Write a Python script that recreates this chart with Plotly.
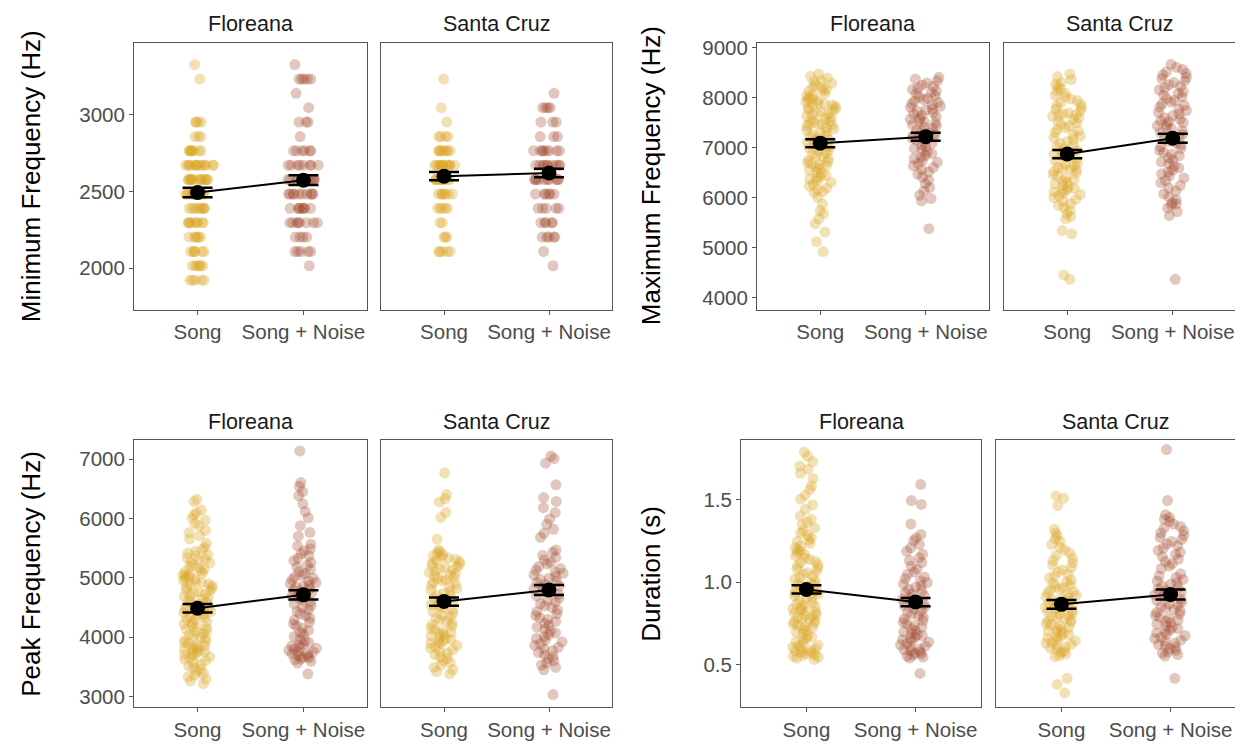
import plotly.graph_objects as go

# screen geometry of the reference (pixels) and page offset of the plot div
SCREEN_W, SCREEN_H = 1243, 745
DX, DY = 8, 12
W, H = SCREEN_W - DX, SCREEN_H - DY

ISLANDS = ["Floreana", "Santa Cruz"]
CONDS = ["Song", "Song + Noise"]

# ---------------- Minimum frequency (Hz) ----------------
FL_SONG_MIN = [3328, 3234,
               2953, 2953, 2953, 2953,
               2859, 2859, 2859,
               2766, 2766, 2766, 2766, 2766, 2766, 2766, 2766,
               2672, 2672, 2672, 2672, 2672, 2672, 2672, 2672, 2672, 2672, 2672, 2672, 2672, 2672,
               2578, 2578, 2578, 2578, 2578, 2578, 2578, 2578, 2578, 2578, 2578, 2578, 2578, 2578,
               2484, 2484, 2484, 2484, 2484, 2484, 2484, 2484, 2484, 2484, 2484, 2484,
               2391, 2391, 2391, 2391, 2391, 2391, 2391, 2391, 2391,
               2297, 2297, 2297, 2297, 2297, 2297, 2297, 2297, 2297,
               2203, 2203, 2203, 2203, 2203, 2203,
               2109, 2109, 2109, 2109, 2109, 2109,
               2016, 2016, 2016, 2016, 2016, 2016,
               1922, 1922, 1922, 1922, 1922]
FL_NOISE_MIN = [3328,
                3234, 3234, 3234, 3234, 3234,
                3141, 3047,
                2953, 2953, 2953,
                2859,
                2766, 2766, 2766, 2766, 2766, 2766,
                2672, 2672, 2672, 2672, 2672, 2672, 2672, 2672,
                2578, 2578, 2578, 2578, 2578, 2578, 2578, 2578, 2578, 2578,
                2484, 2484, 2484, 2484, 2484, 2484, 2484, 2484, 2484, 2484,
                2391, 2391, 2391, 2391, 2391, 2391, 2391, 2391,
                2297, 2297, 2297, 2297, 2297, 2297, 2297, 2297,
                2203, 2203, 2203, 2203,
                2109, 2109, 2109, 2109, 2109,
                2016]
SC_SONG_MIN = [3234, 3047, 2953,
               2859, 2859, 2859, 2859,
               2766, 2766, 2766, 2766, 2766, 2766, 2766, 2766,
               2672, 2672, 2672, 2672, 2672, 2672, 2672, 2672, 2672, 2672, 2672, 2672,
               2578, 2578, 2578, 2578, 2578, 2578, 2578, 2578, 2578, 2578,
               2484, 2484, 2484, 2484, 2484, 2484, 2484,
               2391, 2391, 2391, 2391, 2391,
               2297, 2297,
               2203, 2203, 2203,
               2109, 2109, 2109, 2109, 2109]
SC_NOISE_MIN = [3141,
                3047, 3047, 3047, 3047,
                2953, 2953, 2953,
                2859, 2859, 2859,
                2766, 2766, 2766, 2766, 2766, 2766, 2766, 2766,
                2672, 2672, 2672, 2672, 2672, 2672, 2672, 2672, 2672, 2672,
                2578, 2578, 2578, 2578, 2578, 2578, 2578, 2578, 2578, 2578,
                2484, 2484, 2484, 2484, 2484, 2484,
                2391, 2391, 2391, 2391, 2391,
                2297, 2297, 2297, 2297, 2297,
                2203, 2203, 2203, 2203, 2203,
                2109, 2016]

# ---------------- Maximum frequency (Hz) ----------------
FL_SONG_MAX = [8472, 8426, 8391, 8344, 8331, 8287, 8262, 8219, 8203, 8168, 8141, 8129, 8086, 8057,
               8038, 8004, 7981, 7963, 7932, 7917, 7889, 7874, 7856, 7848, 7830, 7801, 7783, 7766,
               7739, 7712, 7694, 7671, 7652, 7628, 7603, 7587, 7551, 7532, 7509, 7488, 7471, 7462,
               7449, 7427, 7398, 7376, 7349, 7318, 7297, 7266, 7241, 7214, 7189, 7166, 7133, 7108,
               7079, 7047, 7018, 6989, 6962, 6937, 6904, 6879, 6842, 6817, 6782, 6754, 6725, 6698,
               6681, 6664, 6647, 6613, 6584, 6551, 6519, 6486, 6448, 6417, 6392, 6373, 6342, 6306,
               6271, 6233, 6198, 6162, 6127, 6101, 6008, 5877, 5745, 5683, 5579, 5482, 5316, 5122,
               4927]
FL_NOISE_MAX = [8407, 8372, 8338, 8296, 8251, 8224, 8191, 8163, 8137, 8104, 8079, 8043, 8018, 7989,
                7961, 7936, 7907, 7884, 7853, 7829, 7806, 7778, 7752, 7727, 7698, 7676, 7645, 7624,
                7593, 7571, 7544, 7517, 7496, 7463, 7439, 7412, 7387, 7358, 7333, 7302, 7276, 7244,
                7217, 7188, 7153, 7124, 7092, 7058, 7023, 6987, 6952, 6921, 6883, 6848, 6811, 6783,
                6744, 6712, 6684, 6641, 6603, 6562, 6514, 6473, 6411, 6352, 6283, 6204, 6137, 6053,
                5986, 5937, 5383]
SC_SONG_MAX = [8472, 8417, 8361, 8306, 8268, 8219, 8177, 8136, 8091, 8047, 8012, 7978, 7943, 7906,
               7871, 7838, 7801, 7767, 7734, 7698, 7677, 7661, 7648, 7627, 7596, 7568, 7534, 7501,
               7466, 7437, 7398, 7366, 7337, 7301, 7266, 7231, 7197, 7162, 7126, 7091, 7057, 7018,
               6986, 6947, 6911, 6876, 6841, 6807, 6771, 6736, 6701, 6668, 6636, 6609, 6592, 6577,
               6556, 6527, 6497, 6466, 6436, 6401, 6367, 6336, 6306, 6277, 6246, 6217, 6186, 6157,
               6134, 6117, 6096, 6066, 6037, 6002, 5968, 5927, 5886, 5847, 5796, 5748, 5687, 5628,
               5581, 5344, 5279, 4456, 4371]
SC_NOISE_MAX = [8668, 8607, 8563, 8518, 8487, 8452, 8408, 8377, 8336, 8302, 8261, 8227, 8193, 8157,
                8124, 8088, 8051, 8017, 7983, 7948, 7912, 7878, 7847, 7812, 7776, 7743, 7708, 7676,
                7638, 7601, 7567, 7538, 7521, 7503, 7468, 7437, 7406, 7377, 7341, 7308, 7272, 7237,
                7203, 7168, 7127, 7093, 7057, 7018, 6983, 6947, 6908, 6872, 6837, 6798, 6757, 6718,
                6677, 6636, 6598, 6557, 6516, 6478, 6437, 6396, 6347, 6298, 6246, 6197, 6138, 6077,
                6018, 5957, 5902, 5881, 5858, 5797, 5726, 5642, 4371]

# ---------------- Peak frequency (Hz) ----------------
FL_SONG_PEAK = [6322, 6284, 6141, 6097, 6062, 6004, 5971, 5916, 5879, 5798, 5763, 5711, 5654, 5582,
                5521, 5479, 5446, 5418, 5389, 5371, 5342, 5309, 5297, 5262, 5248, 5214, 5189, 5171,
                5143, 5117, 5102, 5084, 5065, 5048, 5031, 5013, 4992, 4974, 4953, 4933, 4922, 4897,
                4881, 4863, 4842, 4826, 4804, 4787, 4763, 4742, 4724, 4702, 4687, 4664, 4641, 4621,
                4597, 4582, 4561, 4536, 4516, 4497, 4477, 4453, 4432, 4409, 4393, 4372, 4348, 4331,
                4306, 4286, 4263, 4241, 4222, 4197, 4177, 4151, 4132, 4111, 4091, 4064, 4044, 4022,
                3997, 3978, 3954, 3932, 3911, 3892, 3873, 3857, 3841, 3823, 3802, 3792, 3777, 3761,
                3743, 3724, 3708, 3689, 3672, 3651, 3627, 3603, 3574, 3542, 3513, 3486, 3456, 3422,
                3391, 3362, 3331, 3297, 3261, 3217]
FL_NOISE_PEAK = [7138, 6605, 6541, 6452, 6381, 6247, 6118, 6012, 5879, 5762, 5701,
                 5567, 5538, 5491, 5453, 5409, 5373, 5331, 5288, 5256, 5211, 5183, 5139, 5106, 5071,
                 5042, 5013, 4991, 4967, 4942, 4921, 4903, 4879, 4862, 4839, 4818, 4794, 4773, 4751,
                 4723, 4689, 4661, 4627, 4593, 4562, 4529, 4498, 4461, 4431, 4394, 4361, 4323, 4289,
                 4256, 4222, 4187, 4149, 4113, 4079, 4044, 4009, 3973, 3942, 3909, 3879, 3868, 3852,
                 3823, 3811, 3799, 3779, 3752, 3746, 3723, 3718, 3691, 3681, 3662, 3652, 3633, 3621,
                 3592, 3563, 3383]
SC_SONG_PEAK = [6767, 6402, 6331, 6279, 6101, 6017, 5651,
                5467, 5441, 5417, 5393, 5372, 5349, 5332, 5311, 5291, 5269, 5252, 5231, 5211, 5189,
                5172, 5149, 5133, 5109, 5091, 5072, 5049, 5031, 5012, 4989, 4971, 4947, 4926, 4899,
                4879, 4852, 4821, 4797, 4769, 4742, 4711, 4689, 4659, 4632, 4601, 4571, 4542, 4514,
                4489, 4459, 4431, 4401, 4376, 4347, 4321, 4292, 4261, 4236, 4209, 4183, 4154, 4131,
                4104, 4082, 4061, 4041, 4019, 4002, 3979, 3961, 3939, 3922, 3899, 3882, 3859, 3841,
                3814, 3791, 3761, 3736, 3702, 3669, 3641, 3604, 3571, 3532, 3489, 3453, 3419, 3383]
SC_NOISE_PEAK = [7052, 7009, 6931, 6567, 6352, 6288, 6181, 6099, 5991, 5902, 5818, 5751, 5683,
                 5467, 5431, 5379, 5346, 5301, 5261, 5229, 5191, 5159, 5131, 5099, 5076, 5049, 5023,
                 4994, 4971, 4941, 4916, 4889, 4863, 4834, 4811, 4784, 4756, 4721, 4691, 4659, 4626,
                 4589, 4561, 4527, 4496, 4459, 4429, 4394, 4361, 4329, 4301, 4264, 4233, 4199, 4169,
                 4134, 4103, 4069, 4041, 4009, 3981, 3949, 3921, 3889, 3861, 3829, 3801, 3769, 3741,
                 3704, 3671, 3634, 3601, 3566, 3529, 3491, 3451, 3033]

# ---------------- Duration (s) ----------------
FL_SONG_DUR = [1.787, 1.762, 1.731, 1.703, 1.684, 1.659, 1.628, 1.582, 1.561, 1.527, 1.503, 1.468,
               1.441, 1.402, 1.381, 1.362, 1.348, 1.329, 1.312, 1.298, 1.287, 1.268, 1.257, 1.246,
               1.237, 1.219, 1.208, 1.197, 1.189, 1.176, 1.168, 1.159, 1.147, 1.138, 1.126, 1.118,
               1.107, 1.099, 1.088, 1.079, 1.067, 1.058, 1.049, 1.038, 1.031, 1.019, 1.008, 0.998,
               0.991, 0.987, 0.979, 0.968, 0.966, 0.957, 0.948, 0.939, 0.936, 0.928, 0.917, 0.909,
               0.898, 0.889, 0.877, 0.868, 0.859, 0.853, 0.847, 0.839, 0.834, 0.828, 0.819, 0.813,
               0.806, 0.798, 0.793, 0.787, 0.779, 0.773, 0.768, 0.759, 0.754, 0.748, 0.739, 0.731,
               0.726, 0.718, 0.709, 0.698, 0.689, 0.678, 0.669, 0.658, 0.648, 0.639, 0.628, 0.619,
               0.613, 0.607, 0.598, 0.594, 0.588, 0.583, 0.578, 0.573, 0.568, 0.562, 0.557, 0.552,
               0.547, 0.541, 0.532]
FL_NOISE_DUR = [1.592, 1.494, 1.471, 1.352,
                1.289, 1.268, 1.251, 1.229, 1.208, 1.187, 1.169, 1.148, 1.131, 1.118, 1.097, 1.079,
                1.061, 1.048, 1.031, 1.022, 1.009, 0.998, 0.989, 0.978, 0.969, 0.958, 0.948, 0.937,
                0.929, 0.918, 0.908, 0.897, 0.888, 0.878, 0.867, 0.858, 0.849, 0.838, 0.827, 0.818,
                0.807, 0.796, 0.788, 0.777, 0.768, 0.757, 0.748, 0.737, 0.727, 0.718, 0.706, 0.698,
                0.689, 0.682, 0.676, 0.668, 0.659, 0.652, 0.646, 0.638, 0.629, 0.621, 0.613, 0.606,
                0.598, 0.591, 0.586, 0.579, 0.572, 0.566, 0.559, 0.553, 0.547, 0.541, 0.448]
SC_SONG_DUR = [1.522, 1.508, 1.463, 1.321, 1.298,
               1.281, 1.262, 1.247, 1.229, 1.211, 1.196, 1.178, 1.162, 1.147, 1.131, 1.118, 1.104,
               1.089, 1.076, 1.062, 1.049, 1.037, 1.026, 1.014, 1.003, 0.993, 0.984, 0.976, 0.968,
               0.959, 0.951, 0.943, 0.937, 0.928, 0.921, 0.913, 0.906, 0.898, 0.892, 0.884, 0.877,
               0.871, 0.863, 0.857, 0.849, 0.842, 0.836, 0.828, 0.821, 0.814, 0.807, 0.799, 0.793,
               0.786, 0.779, 0.771, 0.764, 0.757, 0.749, 0.742, 0.736, 0.728, 0.721, 0.713, 0.706,
               0.698, 0.691, 0.684, 0.676, 0.668, 0.661, 0.653, 0.646, 0.638, 0.631, 0.624, 0.617,
               0.609, 0.601, 0.593, 0.584, 0.576, 0.567, 0.558, 0.549, 0.418, 0.381, 0.329]
SC_NOISE_DUR = [1.803, 1.494,
                1.409, 1.392, 1.381, 1.367, 1.352, 1.338, 1.327, 1.311, 1.298, 1.284, 1.271, 1.259,
                1.247, 1.232, 1.221, 1.207, 1.193, 1.181, 1.168, 1.154, 1.139, 1.126, 1.111, 1.098,
                1.083, 1.051, 1.039, 1.028, 1.017, 1.006, 0.996, 0.987, 0.977, 0.968, 0.959, 0.949,
                0.941, 0.932, 0.923, 0.914, 0.906, 0.897, 0.888, 0.879, 0.869, 0.861, 0.852, 0.843,
                0.834, 0.826, 0.817, 0.808, 0.799, 0.789, 0.781, 0.772, 0.763, 0.754, 0.746, 0.737,
                0.728, 0.719, 0.711, 0.702, 0.693, 0.684, 0.676, 0.667, 0.658, 0.649, 0.641, 0.632,
                0.623, 0.614, 0.606, 0.597, 0.588, 0.579, 0.571, 0.562, 0.553, 0.418]

# ---------------- Means and standard errors (Song, Song + Noise) ----------------
MIN_MEAN = {"Floreana": [2494, 2574], "Santa Cruz": [2600, 2621]}
MIN_SE = {"Floreana": [31, 32], "Santa Cruz": [27, 28]}
MAX_MEAN = {"Floreana": [7092, 7222], "Santa Cruz": [6874, 7190]}
MAX_SE = {"Floreana": [80, 80], "Santa Cruz": [82, 92]}
PEAK_MEAN = {"Floreana": [4488, 4713], "Santa Cruz": [4600, 4795]}
PEAK_SE = {"Floreana": [72, 78], "Santa Cruz": [70, 83]}
DUR_MEAN = {"Floreana": [0.956, 0.880], "Santa Cruz": [0.866, 0.926]}
DUR_SE = {"Floreana": [0.025, 0.025], "Santa Cruz": [0.026, 0.030]}

MIN_TICKS = [2000, 2500, 3000]
MAX_TICKS = [4000, 5000, 6000, 7000, 8000, 9000]
PEAK_TICKS = [3000, 4000, 5000, 6000, 7000]
DUR_TICKS = [0.5, 1.0, 1.5]
DUR_TICKTEXT = ["0.5", "1.0", "1.5"]

panels = [
    dict(title="Minimum Frequency (Hz)",
         data={"Floreana": [FL_SONG_MIN, FL_NOISE_MIN], "Santa Cruz": [SC_SONG_MIN, SC_NOISE_MIN]},
         mean=MIN_MEAN, se=MIN_SE, yr=[1729, 3471], ticks=MIN_TICKS, ticktext=None,
         xd=[(134, 367), (381, 612)], yd=(40, 310), tx=31),
    dict(title="Maximum Frequency (Hz)",
         data={"Floreana": [FL_SONG_MAX, FL_NOISE_MAX], "Santa Cruz": [SC_SONG_MAX, SC_NOISE_MAX]},
         mean=MAX_MEAN, se=MAX_SE, yr=[3763, 9099], ticks=MAX_TICKS, ticktext=None,
         xd=[(757, 989), (1004, 1236)], yd=(40, 310), tx=651),
    dict(title="Peak Frequency (Hz)",
         data={"Floreana": [FL_SONG_PEAK, FL_NOISE_PEAK], "Santa Cruz": [SC_SONG_PEAK, SC_NOISE_PEAK]},
         mean=PEAK_MEAN, se=PEAK_SE, yr=[2817, 7317], ticks=PEAK_TICKS, ticktext=None,
         xd=[(134, 367), (381, 612)], yd=(442, 712), tx=31),
    dict(title="Duration (s)",
         data={"Floreana": [FL_SONG_DUR, FL_NOISE_DUR], "Santa Cruz": [SC_SONG_DUR, SC_NOISE_DUR]},
         mean=DUR_MEAN, se=DUR_SE, yr=[0.2425, 1.859], ticks=DUR_TICKS, ticktext=DUR_TICKTEXT,
         xd=[(741, 981), (996, 1236)], yd=(442, 712), tx=651),
]

COLORS = ["rgba(218,165,32,0.33)", "rgba(160,70,40,0.30)"]
FONT = "Liberation Sans, Arial, sans-serif"
TICK_SIZE = 20.5
STRIP_SIZE = 21.5
TITLE_SIZE = 26


def px_x(X):
    return (X - DX) / W


def px_y(Y):
    return 1 - (Y - DY) / H


fig = go.Figure()
layout = dict(width=W, height=H, margin=dict(l=0, r=0, t=0, b=0), autosize=False,
              paper_bgcolor="white", plot_bgcolor="white", showlegend=False,
              font=dict(family=FONT), boxmode="overlay")
annotations = []

k = 0
for p in panels:
    first_k = None
    for fi, isl in enumerate(ISLANDS):
        k += 1
        if first_k is None:
            first_k = k
        xs = "" if k == 1 else str(k)
        xa, ya = "x" + xs, "y" + xs
        for ci, cond in enumerate(CONDS):
            vals = p["data"][isl][ci]
            fig.add_trace(go.Box(
                x=[cond] * len(vals), y=vals, xaxis=xa, yaxis=ya,
                boxpoints="all", jitter=1.0, pointpos=0, width=0.3,
                fillcolor="rgba(0,0,0,0)", line=dict(color="rgba(0,0,0,0)", width=0),
                whiskerwidth=0,
                marker=dict(size=11, color=COLORS[ci], line=dict(width=0)),
                hoveron="points", name=f"{isl} {cond}"))
        fig.add_trace(go.Scatter(
            x=CONDS, y=p["mean"][isl], xaxis=xa, yaxis=ya, mode="lines+markers",
            line=dict(color="black", width=2),
            marker=dict(size=15, color="black"),
            error_y=dict(type="data", array=p["se"][isl], color="black", thickness=2.5, width=15),
            name=f"{isl} mean"))
        x0, x1 = p["xd"][fi]
        y0, y1 = p["yd"]
        layout["xaxis" + xs] = dict(
            domain=[px_x(x0), px_x(x1)], anchor=ya, type="category",
            categoryorder="array", categoryarray=CONDS, range=[-0.6, 1.6],
            showline=True, mirror=True, linecolor="#555555", linewidth=1,
            ticks="outside", ticklen=4, tickcolor="#555555",
            tickfont=dict(size=TICK_SIZE, color="#4d4d4d", family=FONT),
            showgrid=False, zeroline=False, fixedrange=True)
        yax = dict(
            domain=[px_y(y1), px_y(y0)], anchor=xa, range=p["yr"],
            showline=True, mirror=True, linecolor="#555555", linewidth=1,
            showgrid=False, zeroline=False, fixedrange=True)
        if fi == 0:
            yax.update(ticks="outside", ticklen=4, tickcolor="#555555",
                       tickvals=p["ticks"],
                       tickfont=dict(size=TICK_SIZE, color="#4d4d4d", family=FONT))
            if p["ticktext"]:
                yax["ticktext"] = p["ticktext"]
        else:
            yax.update(showticklabels=False, ticks="",
                       matches="y" + ("" if first_k == 1 else str(first_k)))
        layout["yaxis" + xs] = yax
        annotations.append(dict(
            text=isl, xref="paper", yref="paper", x=px_x((x0 + x1) / 2), y=px_y(y0 - 19),
            showarrow=False, xanchor="center", yanchor="middle",
            font=dict(size=STRIP_SIZE, color="#1a1a1a", family=FONT)))
    y0, y1 = p["yd"]
    annotations.append(dict(
        text=p["title"], xref="paper", yref="paper", x=px_x(p["tx"]), y=px_y((y0 + y1) / 2),
        showarrow=False, textangle=-90, xanchor="center", yanchor="middle",
        font=dict(size=TITLE_SIZE, color="black", family=FONT)))

layout["annotations"] = annotations
fig.update_layout(**layout)
fig.write_html("out.html")
